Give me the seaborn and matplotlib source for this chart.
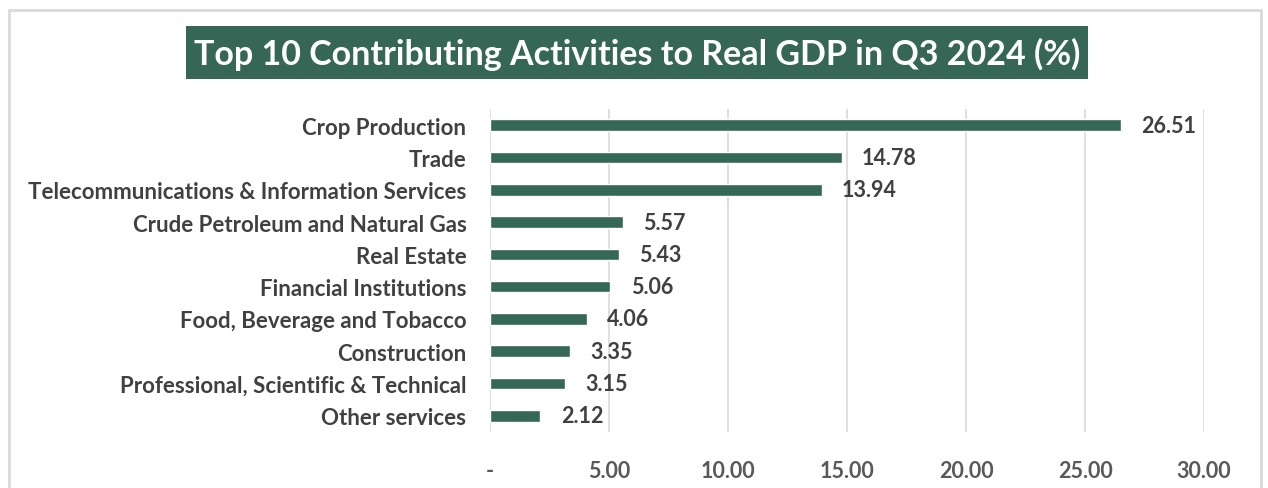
import matplotlib
matplotlib.use("Agg")
import matplotlib.pyplot as plt
from matplotlib.patches import Rectangle
import seaborn as sns
import pandas as pd

GREEN = "#366857"
TXT = "#404040"
TICK = "#595959"

activities = ["Crop Production", "Trade", "Telecommunications & Information Services",
              "Crude Petroleum and Natural Gas", "Real Estate", "Financial Institutions",
              "Food, Beverage and Tobacco", "Construction",
              "Professional, Scientific & Technical", "Other services"]
shares = [26.51, 14.78, 13.94, 5.57, 5.43, 5.06, 4.06, 3.35, 3.15, 2.12]
xticks = [0, 5, 10, 15, 20, 25, 30]

df = pd.DataFrame({"Activity": activities, "Share": shares})

sns.set_style("white")
plt.rcParams["font.family"] = ["Lato", "DejaVu Sans"]

W, H = 1268, 489
fig = plt.figure(figsize=(W / 100, H / 100), dpi=100)
ax = fig.add_axes([490 / W, 1 - 433 / H, 714 / W, 323 / H])

sns.barplot(data=df, x="Share", y="Activity", color=GREEN, width=0.36,
            saturation=1, ax=ax)

for i, v in enumerate(shares):
    ax.text(v + 0.85, i, f"{v:.2f}", va="center", ha="left", fontsize=15.5,
            fontweight="bold", color=TXT)

ax.set_xlim(0, 30)
ax.set_ylim(len(activities) - 0.5, -0.5)
ax.set_xticks(xticks)
ax.set_xticklabels(["-" if t == 0 else f"{t:.2f}" for t in xticks])
ax.grid(axis="x", color="#d9d9d9", lw=1.2)
ax.set_axisbelow(True)
sns.despine(ax=ax, left=True, bottom=True)
ax.tick_params(axis="x", length=0, pad=20, labelsize=15.5, labelcolor=TICK)
ax.tick_params(axis="y", length=0, pad=17, labelsize=16, labelcolor=TXT)
for lb in ax.get_xticklabels() + ax.get_yticklabels():
    lb.set_fontweight("bold")
ax.set_xlabel("")
ax.set_ylabel("")

# outer chart frame
fig.patches.append(Rectangle((9 / W, -0.01), 1252 / W, 1 - 11 / H + 0.01,
                             transform=fig.transFigure, fill=False,
                             edgecolor="#d9d9d9", lw=2))

# title box
fig.patches.append(Rectangle((186 / W, 1 - 80 / H), 902 / W, 53 / H,
                             transform=fig.transFigure, facecolor="#356656",
                             edgecolor="none"))
fig.text(637 / W, 1 - 54 / H, "Top 10 Contributing Activities to Real GDP in Q3 2024 (%)",
         ha="center", va="center", fontsize=24.5, fontweight="bold", color="white")

fig.savefig("out.png", dpi=100)
